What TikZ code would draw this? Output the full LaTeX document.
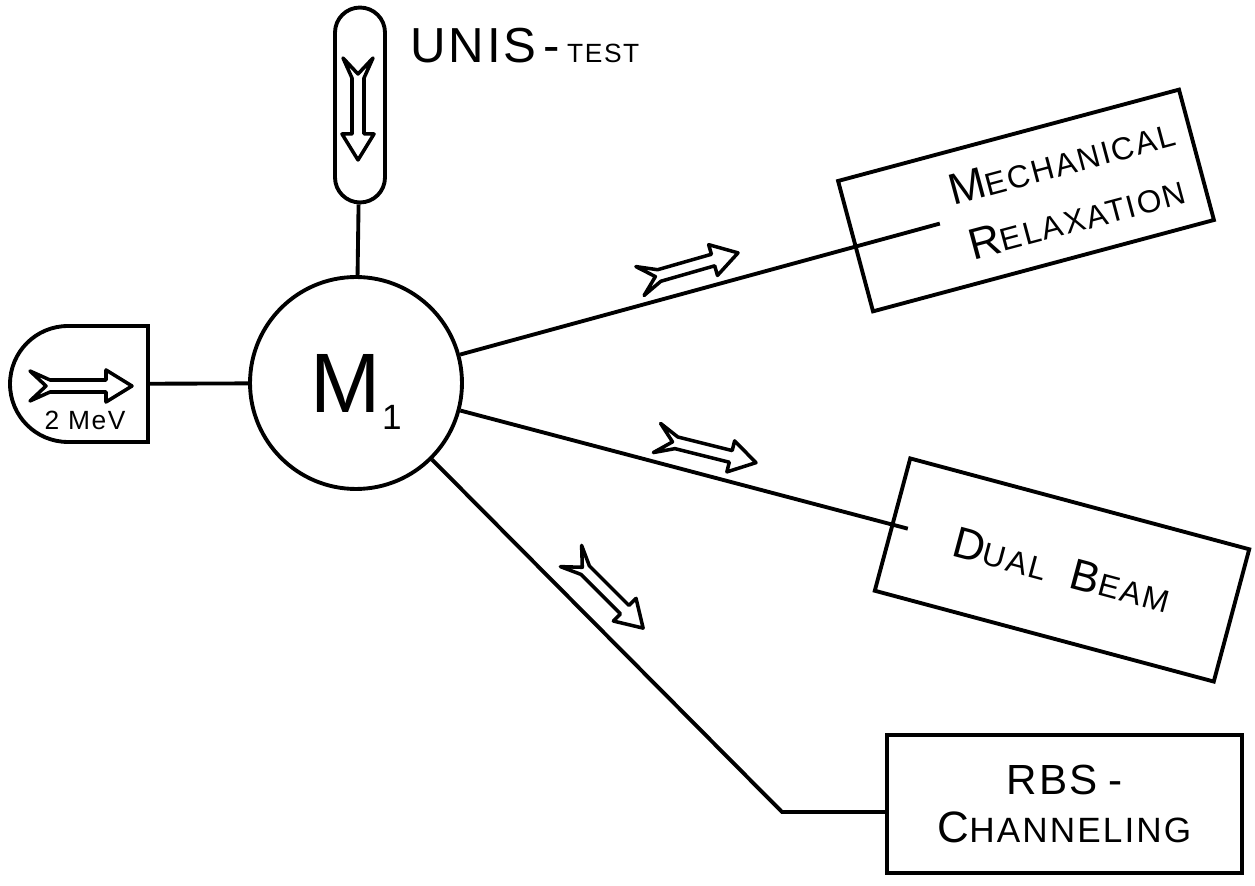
\documentclass[tikz,border=0pt]{standalone}
\usepackage{fontspec}
\setmainfont{Liberation Sans}
\newfontfamily\lettering[LetterSpace=6]{Liberation Sans}
\usetikzlibrary{calc,positioning,shapes.misc}
\newcommand{\capl}[1]{{\fontsize{25}{33}\selectfont #1}}

\tikzset{
  wire/.style={line width=2.2pt},
  box/.style={draw, line width=2.2pt, inner sep=0pt},
  beam/.style={draw, fill=white, line width=2pt, line join=round},
  lbl/.style={font=\lettering\fontsize{18}{33}\selectfont, align=center, inner sep=0pt}
}

\begin{document}
\begin{tikzpicture}[x=0.02cm, y=0.02cm]
  \useasboundingbox (0,0) rectangle (1255,886);
  % target chamber
  \node[circle, box, minimum size=4.24cm, font=\lettering] (m1) at (356,503)
    {\fontsize{48}{48}\selectfont M\hspace{1pt}\smash{\raisebox{-10pt}{\fontsize{20}{20}\selectfont 1}}};
  % sources
  \node[box, minimum width=1cm, minimum height=3.9cm, rounded corners=0.5cm] (unis) at (360,781) {};
  \node[anchor=base west, inner sep=0pt, font=\lettering] (unistxt) at (410,823)
    {\fontsize{28}{28}\selectfont UNIS\hspace{4pt}-\hspace{4pt}{\fontsize{15}{15}\selectfont TEST}};
  \node[box, rounded rectangle, rounded rectangle right arc=none,
        minimum width=2.76cm, minimum height=2.32cm] (src) at (79,502) {};
  \node[font=\lettering\fontsize{15}{15}\selectfont, inner sep=0pt] (mev)
    at ($(src.center)+(6,-36)$) {2 MeV};
  % experiments
  \node[box, rotate=15, minimum width=7.06cm, minimum height=2.7cm] (mech) at (1026,685.5) {};
  \node[lbl, rotate=15] (mechtxt) at ($(mech.center)!0.25!(mech.east)$)
    {\capl{M}ECHANICAL\\\capl{R}ELAXATION};
  \node[box, lbl, rotate=-15, minimum width=7.02cm, minimum height=2.74cm] (dual) at (1062,316)
    {\capl{D}UAL\hspace{0.5cm}\capl{B}EAM};
  \node[box, lbl, font=\lettering\fontsize{20}{27}\selectfont,
        minimum width=7.1cm, minimum height=2.76cm] (rbs) at (1064.5,82)
    {{\fontsize{24}{27}\selectfont RBS\hspace{6pt}-}\\\capl{C}HANNELING};
  % beam lines
  \draw[wire] (unis) -- (m1);
  \draw[wire] (src) -- (m1);
  \draw[wire] (m1) -- ($(mech.west)!0.5!(mech.center)$);
  \draw[wire] (m1) -- ($(dual.west)!0.1!(dual.center)$);
  \coordinate (bend) at (782,74);
  \draw[wire] (m1) -- (bend) -- (bend -| rbs.west);
  % beam direction arrows
  \foreach \x/\y/\a in {30/500/0, 358/828/-90, 640/605/16, 657/448/-14, 571/330/-45}
    \draw[beam, shift={(\x,\y)}, rotate=\a] (0,15) -- (20,6) -- (76,6) -- (76,16) -- (102,0)
      -- (76,-16) -- (76,-6) -- (20,-6) -- (0,-15) -- (16,0) -- cycle;
\end{tikzpicture}
\end{document}
